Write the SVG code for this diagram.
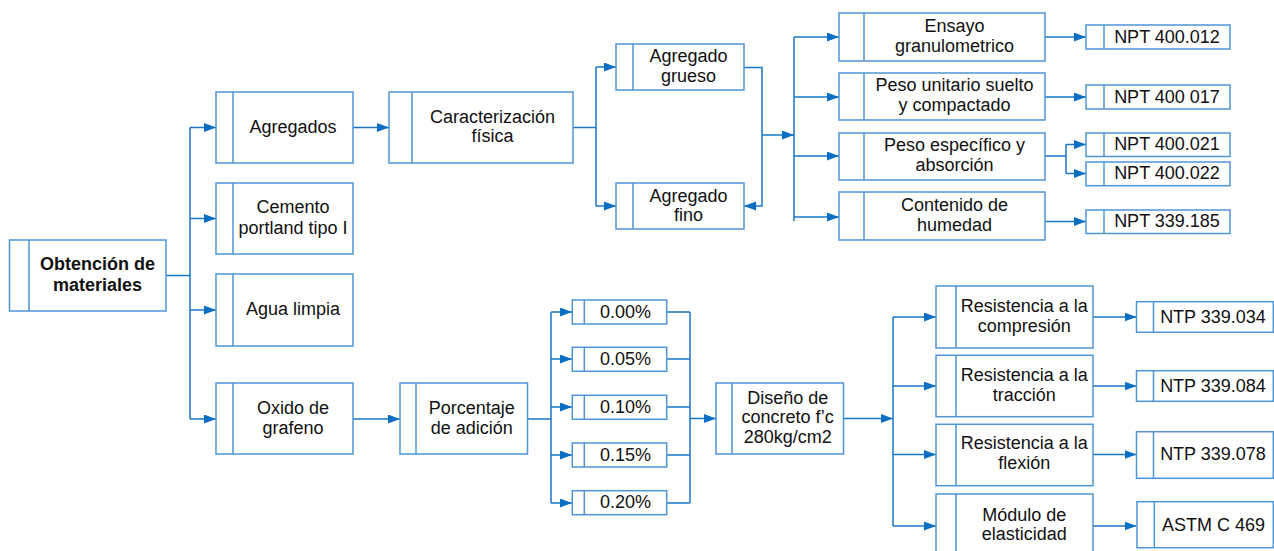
<svg xmlns="http://www.w3.org/2000/svg" width="1274" height="551" viewBox="0 0 1274 551">
<style>
.bx{fill:#fff;stroke:#4f95d6;stroke-width:1.5}
.dv{stroke:#4f95d6;stroke-width:1.5}
.t{font-family:"Liberation Sans",Arial,sans-serif;font-size:18px;fill:#111;text-anchor:middle}
.b{font-weight:bold}
.c{fill:none;stroke:#1a76c6;stroke-width:1.5}
.a{fill:none;stroke:#1a76c6;stroke-width:1.5;marker-end:url(#ar)}
</style>
<defs>
<marker id="ar" markerUnits="userSpaceOnUse" markerWidth="13" markerHeight="10" refX="12" refY="4.5" orient="auto">
<path d="M0,0 L12,4.5 L0,9 z" fill="#0a6fc2"/>
</marker>
</defs>
<rect width="1274" height="551" fill="#fff"/>
<g id="connectors">
<path class="c" d="M166,275.5 H190 M190,127.5 V419"/>
<path class="a" d="M190,127.5 H216"/>
<path class="a" d="M190,218.5 H216"/>
<path class="a" d="M190,310 H216"/>
<path class="a" d="M190,419 H216"/>
<path class="a" d="M353,127.5 H389"/>
<path class="c" d="M573,127.5 H596 M596,67 V206"/>
<path class="a" d="M596,67 H616"/>
<path class="a" d="M596,206 H616"/>
<path class="a" d="M744,67.5 H762 V206 H744"/>
<path class="a" d="M762,135 H794"/>
<path class="c" d="M794,37 V221"/>
<path class="a" d="M794,37 H839"/>
<path class="a" d="M794,97 H839"/>
<path class="a" d="M794,156 H839"/>
<path class="a" d="M794,217 H839"/>
<path class="a" d="M1045,37 H1086"/>
<path class="a" d="M1045,97 H1086"/>
<path class="c" d="M1045,156 H1066 M1066,144.5 V173.5"/>
<path class="a" d="M1066,144.5 H1086"/>
<path class="a" d="M1066,173.5 H1086"/>
<path class="a" d="M1045,221.5 H1086"/>
<path class="a" d="M353,419 H400"/>
<path class="c" d="M527.5,419 H551 M551,312 V503"/>
<path class="a" d="M551,312 H572"/>
<path class="a" d="M551,359 H572"/>
<path class="a" d="M551,407 H572"/>
<path class="a" d="M551,455 H572"/>
<path class="a" d="M551,503 H572"/>
<path class="c" d="M667,312 H690 M667,359 H690 M667,407 H690 M667,455 H690 M667,503 H690 M690,312 V503"/>
<path class="a" d="M690,418.5 H716"/>
<path class="a" d="M843.5,418.5 H893"/>
<path class="c" d="M893,317 V526"/>
<path class="a" d="M893,317 H936"/>
<path class="a" d="M893,386 H936"/>
<path class="a" d="M893,454.5 H936"/>
<path class="a" d="M893,526 H936"/>
<path class="a" d="M1093,317 H1136.5"/>
<path class="a" d="M1093,386 H1136.5"/>
<path class="a" d="M1093,454.5 H1136.5"/>
<path class="a" d="M1093,526 H1136.5"/>
</g>
<g id="obtencion"><rect class="bx" x="9.5" y="240" width="156.5" height="71"/><line class="dv" x1="29" y1="240" x2="29" y2="311"/><text class="t b" x="97.5" y="270">Obtención de</text><text class="t b" x="97.5" y="290.5">materiales</text></g>
<g id="agregados"><rect class="bx" x="216" y="92" width="137" height="71"/><line class="dv" x1="233" y1="92" x2="233" y2="163"/><text class="t" x="293" y="132.5">Agregados</text></g>
<g id="cemento"><rect class="bx" x="216" y="183" width="137" height="71"/><line class="dv" x1="233" y1="183" x2="233" y2="254"/><text class="t" x="293" y="213">Cemento</text><text class="t" x="293" y="234">portland tipo I</text></g>
<g id="agua"><rect class="bx" x="216" y="274" width="137" height="72"/><line class="dv" x1="233" y1="274" x2="233" y2="346"/><text class="t" x="293" y="315">Agua limpia</text></g>
<g id="oxido"><rect class="bx" x="216" y="383" width="137" height="71"/><line class="dv" x1="233" y1="383" x2="233" y2="454"/><text class="t" x="293" y="414">Oxido de</text><text class="t" x="293" y="433.5">grafeno</text></g>
<g id="caracterizacion"><rect class="bx" x="389" y="92" width="184" height="71"/><line class="dv" x1="412" y1="92" x2="412" y2="163"/><text class="t" x="492.5" y="122.7">Caracterización</text><text class="t" x="492.5" y="142">física</text></g>
<g id="porcentaje"><rect class="bx" x="400" y="383" width="127.5" height="71"/><line class="dv" x1="416" y1="383" x2="416" y2="454"/><text class="t" x="471.7" y="414">Porcentaje</text><text class="t" x="471.7" y="433.5">de adición</text></g>
<g id="grueso"><rect class="bx" x="616" y="44" width="128" height="46"/><line class="dv" x1="633" y1="44" x2="633" y2="90"/><text class="t" x="688.5" y="62.3">Agregado</text><text class="t" x="688.5" y="81.7">grueso</text></g>
<g id="fino"><rect class="bx" x="616" y="183" width="128" height="46"/><line class="dv" x1="633" y1="183" x2="633" y2="229"/><text class="t" x="688.5" y="201.5">Agregado</text><text class="t" x="688.5" y="221">fino</text></g>
<g id="ensayo"><rect class="bx" x="839" y="13" width="206" height="48"/><line class="dv" x1="864" y1="13" x2="864" y2="61"/><text class="t" x="954.5" y="32.3">Ensayo</text><text class="t" x="954.5" y="51.7">granulometrico</text></g>
<g id="pesounitario"><rect class="bx" x="839" y="73" width="206" height="47"/><line class="dv" x1="864" y1="73" x2="864" y2="120"/><text class="t" x="954.5" y="91">Peso unitario suelto</text><text class="t" x="954.5" y="111">y compactado</text></g>
<g id="pesoespecifico"><rect class="bx" x="839" y="133" width="206" height="47"/><line class="dv" x1="864" y1="133" x2="864" y2="180"/><text class="t" x="954.5" y="150.7">Peso específico y</text><text class="t" x="954.5" y="171">absorción</text></g>
<g id="contenido"><rect class="bx" x="839" y="192" width="206" height="48"/><line class="dv" x1="864" y1="192" x2="864" y2="240"/><text class="t" x="954.5" y="210.7">Contenido de</text><text class="t" x="954.5" y="230.7">humedad</text></g>
<g id="npt400012"><rect class="bx" x="1086" y="25" width="144" height="24"/><line class="dv" x1="1104" y1="25" x2="1104" y2="49"/><text class="t" x="1167" y="42.5">NPT 400.012</text></g>
<g id="npt400017"><rect class="bx" x="1086" y="85" width="144" height="24"/><line class="dv" x1="1104" y1="85" x2="1104" y2="109"/><text class="t" x="1167" y="102.5">NPT 400 017</text></g>
<g id="npt400021"><rect class="bx" x="1086" y="133" width="144" height="23.5"/><line class="dv" x1="1104" y1="133" x2="1104" y2="156.5"/><text class="t" x="1167" y="149.5">NPT 400.021</text></g>
<g id="npt400022"><rect class="bx" x="1086" y="162" width="144" height="23.7"/><line class="dv" x1="1104" y1="162" x2="1104" y2="185.7"/><text class="t" x="1167" y="178.7">NPT 400.022</text></g>
<g id="npt339185"><rect class="bx" x="1086" y="210" width="144" height="23.5"/><line class="dv" x1="1104" y1="210" x2="1104" y2="233.5"/><text class="t" x="1167" y="226.5">NPT 339.185</text></g>
<g id="p000"><rect class="bx" x="572.3" y="300" width="94.4" height="24"/><line class="dv" x1="584.3" y1="300" x2="584.3" y2="324"/><text class="t" x="625.5" y="317.5">0.00%</text></g>
<g id="p005"><rect class="bx" x="572.3" y="347.3" width="94.4" height="24"/><line class="dv" x1="584.3" y1="347.3" x2="584.3" y2="371.3"/><text class="t" x="625.5" y="365">0.05%</text></g>
<g id="p010"><rect class="bx" x="572.3" y="395.3" width="94.4" height="24"/><line class="dv" x1="584.3" y1="395.3" x2="584.3" y2="419.3"/><text class="t" x="625.5" y="413">0.10%</text></g>
<g id="p015"><rect class="bx" x="572.3" y="443" width="94.4" height="24"/><line class="dv" x1="584.3" y1="443" x2="584.3" y2="467"/><text class="t" x="625.5" y="460.7">0.15%</text></g>
<g id="p020"><rect class="bx" x="572.3" y="490.7" width="94.4" height="24"/><line class="dv" x1="584.3" y1="490.7" x2="584.3" y2="514.7"/><text class="t" x="625.5" y="508.4">0.20%</text></g>
<g id="diseno"><rect class="bx" x="716" y="383" width="127.5" height="71"/><line class="dv" x1="732" y1="383" x2="732" y2="454"/><text class="t" x="787.7" y="404">Diseño de</text><text class="t" x="787.7" y="423.3">concreto f’c</text><text class="t" x="787.7" y="442.7">280kg/cm2</text></g>
<g id="compresion"><rect class="bx" x="936" y="286" width="157" height="62"/><line class="dv" x1="956" y1="286" x2="956" y2="348"/><text class="t" x="1024.3" y="311.7">Resistencia a la</text><text class="t" x="1024.3" y="331.7">compresión</text></g>
<g id="traccion"><rect class="bx" x="936" y="355.3" width="157" height="61.4"/><line class="dv" x1="956" y1="355.3" x2="956" y2="416.7"/><text class="t" x="1024.3" y="380.7">Resistencia a la</text><text class="t" x="1024.3" y="400.7">tracción</text></g>
<g id="flexion"><rect class="bx" x="936" y="424.3" width="157" height="61.4"/><line class="dv" x1="956" y1="424.3" x2="956" y2="485.7"/><text class="t" x="1024.3" y="449.3">Resistencia a la</text><text class="t" x="1024.3" y="469.3">flexión</text></g>
<g id="modulo"><rect class="bx" x="936" y="494" width="157" height="71"/><line class="dv" x1="956" y1="494" x2="956" y2="565"/><text class="t" x="1024.3" y="520.7">Módulo de</text><text class="t" x="1024.3" y="540">elasticidad</text></g>
<g id="ntp339034"><rect class="bx" x="1136.5" y="301.7" width="136.8" height="30.6"/><line class="dv" x1="1153.5" y1="301.7" x2="1153.5" y2="332.3"/><text class="t" x="1213" y="322.5">NTP 339.034</text></g>
<g id="ntp339084"><rect class="bx" x="1136.5" y="370.7" width="136.8" height="30.6"/><line class="dv" x1="1153.5" y1="370.7" x2="1153.5" y2="401.3"/><text class="t" x="1213" y="391.5">NTP 339.084</text></g>
<g id="ntp339078"><rect class="bx" x="1136.5" y="431.7" width="136.8" height="46.6"/><line class="dv" x1="1153.5" y1="431.7" x2="1153.5" y2="478.3"/><text class="t" x="1213" y="460">NTP 339.078</text></g>
<g id="astmc469"><rect class="bx" x="1137" y="501.7" width="136.3" height="46"/><line class="dv" x1="1154.3" y1="501.7" x2="1154.3" y2="547.7"/><text class="t" x="1213.5" y="530.5">ASTM C 469</text></g>
</svg>
